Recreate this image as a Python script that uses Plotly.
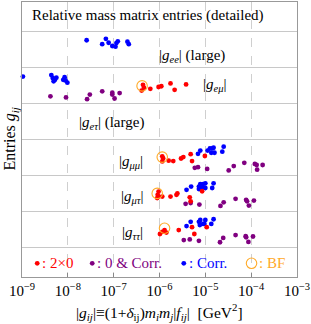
import plotly.graph_objects as go

# ---------------- data (log10 of |g_ij| in GeV^2, and vertical jitter within a row) ----------------
row_index = {"ττ": 1, "μτ": 2, "μμ": 3, "eτ": 4, "eμ": 5, "ee": 6}

# |g_ee| : only "Corr." (blue)
ee_corr_log10 = [-7.59, -7.25, -7.17, -7.11, -7.03, -6.96, -6.94, -6.91, -6.70, -6.67]
ee_corr_dy = [0.27, 0.16, 0.31, 0.20, 0.11, 0.09, 0.19, 0.24, 0.23, 0.16]

# |g_emu|
emu_corr_log10 = [-8.98, -8.36, -8.33, -8.28, -8.25, -8.31, -8.07, -8.05, -8.01, -8.10]
emu_corr_dy = [0.26, 0.30, 0.22, 0.17, 0.23, 0.13, 0.24, 0.15, 0.09, 0.17]
emu_zero_log10 = [-8.38, -8.04, -7.52, -7.58, -7.25, -7.03, -7.03, -6.98, -6.87]
emu_zero_dy = [-0.29, -0.32, -0.24, -0.37, -0.15, -0.19, -0.24, -0.35, -0.20]
emu_2x0_log10 = [-6.36, -6.34, -6.39, -6.20, -6.02, -5.96, -5.76, -5.67, -5.42]
emu_2x0_dy = [0.03, -0.05, -0.13, -0.08, -0.03, -0.01, 0.07, -0.11, 0.04]
emu_bf_log10 = [-6.38]
emu_bf_dy = [0.0]

# |g_mumu|
mumu_corr_log10 = [-5.16, -5.11, -4.95, -4.90, -4.85, -4.82, -4.87, -4.80, -4.63, -4.60]
mumu_corr_dy = [0.11, 0.20, 0.20, 0.26, 0.26, 0.28, 0.14, 0.14, 0.17, 0.31]
mumu_zero_log10 = [-5.23, -5.16, -4.96, -4.49, -4.38, -4.15, -3.92, -3.88, -3.87, -3.75]
mumu_zero_dy = [-0.28, -0.26, -0.31, -0.35, -0.23, -0.14, -0.17, -0.20, -0.33, -0.20]
mumu_2x0_log10 = [-5.94, -5.92, -5.94, -5.80, -5.70, -5.53, -5.48, -5.32, -5.29, -5.01]
mumu_2x0_dy = [0.04, -0.02, -0.10, -0.08, -0.09, -0.02, 0.02, 0.10, -0.09, 0.05]
mumu_bf_log10 = [-5.94]
mumu_bf_dy = [0.02]

# |g_mutau|
mutau_corr_log10 = [-5.41, -5.31, -5.14, -5.11, -5.05, -5.00, -5.14, -5.07, -5.00, -4.85, -4.82]
mutau_corr_dy = [0.11, 0.20, 0.20, 0.27, 0.27, 0.29, 0.13, 0.16, 0.16, 0.16, 0.29]
mutau_zero_log10 = [-5.43, -5.32, -5.13, -4.67, -4.60, -4.34, -4.11, -4.09, -4.05, -3.94]
mutau_zero_dy = [-0.28, -0.26, -0.30, -0.34, -0.24, -0.14, -0.17, -0.21, -0.33, -0.19]
mutau_2x0_log10 = [-6.04, -6.02, -6.05, -5.94, -5.76, -5.63, -5.61, -5.34, -5.32, -5.07, -6.02]
mutau_2x0_dy = [-0.03, -0.08, -0.12, -0.08, -0.08, -0.03, 0.01, -0.10, -0.21, 0.07, 0.06]
mutau_bf_log10 = [-6.05]
mutau_bf_dy = [0.01]

# |g_tautau|
tautau_corr_log10 = [-5.41, -5.32, -5.14, -5.11, -5.05, -5.00, -5.12, -5.02, -4.87, -4.82]
tautau_corr_dy = [0.10, 0.22, 0.22, 0.27, 0.16, 0.27, 0.13, 0.16, 0.16, 0.29]
tautau_zero_log10 = [-5.47, -5.34, -5.14, -4.68, -4.61, -4.34, -4.12, -4.11, -4.06, -3.96]
tautau_zero_dy = [-0.29, -0.27, -0.31, -0.35, -0.23, -0.15, -0.18, -0.21, -0.34, -0.19]
tautau_2x0_log10 = [-5.99, -5.94, -5.89, -5.85, -5.58, -5.29, -5.24, -4.97]
tautau_2x0_dy = [-0.12, -0.06, -0.01, -0.08, -0.01, 0.07, -0.12, 0.07]
tautau_bf_log10 = [-5.89]
tautau_bf_dy = [0.04]

x_tick_exponents = [-9, -8, -7, -6, -5, -4, -3]

# ---------------- styles ----------------
RED = "rgb(255,0,0)"
PURPLE = "rgb(128,0,128)"
BLUE = "rgb(0,0,255)"
ORANGE = "rgb(255,170,40)"
FONT = "Liberation Serif"
TXT = 15
DOT = 4.8
BF_SIZE = 10.5

fig = go.Figure()


def add_points(xs, ys, color):
    fig.add_trace(go.Scatter(
        x=xs, y=ys, mode="markers",
        marker=dict(size=DOT, color=color, line=dict(width=0)),
        showlegend=False, hoverinfo="skip", cliponaxis=False))


def add_bf(xs, ys):
    fig.add_trace(go.Scatter(
        x=xs, y=ys, mode="markers",
        marker=dict(size=BF_SIZE, color="rgba(0,0,0,0)", line=dict(width=1.1, color=ORANGE)),
        showlegend=False, hoverinfo="skip"))


def row_points(row, xs_log, dys):
    y0 = row_index[row]
    return [10 ** v for v in xs_log], [y0 + d for d in dys]


add_points(*row_points("ee", ee_corr_log10, ee_corr_dy), BLUE)

for row, zl, zd, cl, cd, rl, rd, bl, bd in [
    ("eμ", emu_zero_log10, emu_zero_dy, emu_corr_log10, emu_corr_dy, emu_2x0_log10, emu_2x0_dy, emu_bf_log10, emu_bf_dy),
    ("μμ", mumu_zero_log10, mumu_zero_dy, mumu_corr_log10, mumu_corr_dy, mumu_2x0_log10, mumu_2x0_dy, mumu_bf_log10, mumu_bf_dy),
    ("μτ", mutau_zero_log10, mutau_zero_dy, mutau_corr_log10, mutau_corr_dy, mutau_2x0_log10, mutau_2x0_dy, mutau_bf_log10, mutau_bf_dy),
    ("ττ", tautau_zero_log10, tautau_zero_dy, tautau_corr_log10, tautau_corr_dy, tautau_2x0_log10, tautau_2x0_dy, tautau_bf_log10, tautau_bf_dy),
]:
    add_points(*row_points(row, zl, zd), PURPLE)
    add_points(*row_points(row, cl, cd), BLUE)
    add_points(*row_points(row, rl, rd), RED)
    add_bf(*row_points(row, bl, bd))

# ---------------- text labels ----------------
labels = [
    (-6.26, 6.97, "Relative mass matrix entries (detailed)"),
    (-5.29, 5.82, "|<i>g<sub>ee</sub></i>| (large)"),
    (-4.80, 5.02, "|<i>g<sub>eμ</sub></i>|"),
    (-7.05, 3.98, "|<i>g<sub>eτ</sub></i>| (large)"),
    (-6.62, 2.89, "|<i>g<sub>μμ</sub></i>|"),
    (-6.60, 1.92, "|<i>g<sub>μτ</sub></i>|"),
    (-6.59, 0.91, "|<i>g<sub>ττ</sub></i>|"),
]
for x, y, t in labels:
    fig.add_annotation(x=x, y=y, xref="x", yref="y", text=t, showarrow=False,
                       font=dict(family=FONT, size=TXT, color="black"), xanchor="center", yanchor="middle")

# in-plot legend row (symbol markers + text)
LEG_Y = 0.065
legend_items = [
    (-8.668, -8.61, ": 2×0", RED, "dot"),
    (-7.468, -7.41, ": 0 &amp; Corr.", PURPLE, "dot"),
    (-5.470, -5.41, ": Corr.", BLUE, "dot"),
    (-3.992, -3.87, ": BF", ORANGE, "bf"),
]
for xm, xt, t, c, kind in legend_items:
    if kind == "dot":
        add_points([10 ** xm], [LEG_Y], c)
    else:
        add_bf([10 ** xm], [LEG_Y])
    fig.add_annotation(x=xt, y=LEG_Y, xref="x", yref="y", text=t, showarrow=False,
                       font=dict(family=FONT, size=TXT, color=c), xanchor="left", yanchor="middle")

# axis titles
fig.add_annotation(x=-0.042, y=0.505, xref="paper", yref="paper", text="Entries <i>g<sub>ij</sub></i>",
                   textangle=-90, showarrow=False, font=dict(family=FONT, size=16, color="black"),
                   xanchor="center", yanchor="middle")
fig.add_annotation(x=0.5, y=-0.126, xref="paper", yref="paper",
                   text="|<i>g<sub>ij</sub></i>|≡(1+<i>δ</i><sub>ij</sub>)<i>m<sub>i</sub>m<sub>j</sub></i>|<i>f<sub>ij</sub></i>|&nbsp;&nbsp;[GeV<sup>2</sup>]",
                   showarrow=False, font=dict(family=FONT, size=15.5, color="black"),
                   xanchor="center", yanchor="middle")

fig.update_layout(
    width=311, height=324,
    margin=dict(l=22, r=14, t=2, b=47, autoexpand=False),
    plot_bgcolor="white", paper_bgcolor="white",
    font=dict(family=FONT, size=TXT, color="black"),
    showlegend=False,
)
fig.update_xaxes(
    type="log", range=[-9, -3], automargin=False,
    tickvals=[10 ** e for e in x_tick_exponents],
    ticktext=["10<sup>−%d</sup>" % (-e) for e in x_tick_exponents],
    ticks="inside", ticklen=4, tickcolor="#888",
    showgrid=True, gridcolor="#cfcfcf", griddash="dash", gridwidth=1,
    showline=True, linecolor="#999", linewidth=1, mirror=True,
    tickfont=dict(family=FONT, size=15, color="black"), zeroline=False,
)
fig.update_yaxes(
    range=[-0.316, 7.334], automargin=False,
    tickvals=[0.5, 1.5, 2.5, 3.5, 4.5, 5.5, 6.5],
    showticklabels=False, ticks="",
    showgrid=True, gridcolor="#c8c8c8", gridwidth=1,
    showline=True, linecolor="#999", linewidth=1, mirror=True, zeroline=False,
)

fig.write_html("out.html", config={"displayModeBar": False},
               post_script="document.body.style.margin='0';document.body.style.overflow='hidden';")
